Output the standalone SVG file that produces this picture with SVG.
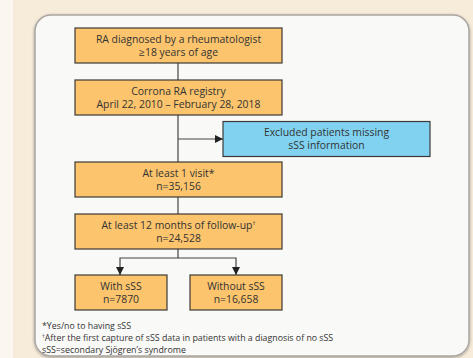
<svg xmlns="http://www.w3.org/2000/svg" width="473" height="358" viewBox="0 0 473 358">
<defs>
<style>
.box{fill:#fcc46c;stroke:#3c3a36;stroke-width:1.2}
.blue{fill:#80d2f0;stroke:#3c3a36;stroke-width:1.2}
.t{font-family:"Open Sans","Liberation Sans",sans-serif;font-size:10.4px;fill:#333;text-anchor:middle}
.fn{font-family:"Open Sans","Liberation Sans",sans-serif;font-size:8.8px;fill:#333}
.ln{stroke:#444;stroke-width:1.2;fill:none}
</style>
<marker id="ah" viewBox="0 0 10 10" refX="10" refY="5" markerWidth="8" markerHeight="8" markerUnits="userSpaceOnUse" orient="auto">
<path d="M0,0 L10,5 L0,10 z" fill="#222"/>
</marker>
<filter id="sh" x="-5%" y="-5%" width="110%" height="110%">
<feDropShadow dx="0" dy="1" stdDeviation="1.5" flood-color="#000" flood-opacity="0.35"/>
</filter>
</defs>
<rect x="0" y="0" width="473" height="358" fill="#f7ebd9"/>
<rect x="0" y="0" width="13" height="358" fill="#fbf6ee"/>
<rect x="35" y="15" width="434" height="341" rx="16" ry="16" fill="#f9f9f8" stroke="#a8a6a2" stroke-width="1.5" filter="url(#sh)"/>
<g id="connectors">
<line class="ln" x1="178" y1="63" x2="178" y2="80"/>
<line class="ln" x1="178" y1="115" x2="178" y2="162"/>
<line class="ln" x1="178" y1="139" x2="223" y2="139" marker-end="url(#ah)"/>
<line class="ln" x1="178" y1="197" x2="178" y2="214"/>
<polyline class="ln" points="178,249 178,258 120,258 120,275" marker-end="url(#ah)"/>
<polyline class="ln" points="178,258 236,258 236,275" marker-end="url(#ah)"/>
</g>
<g id="n1"><rect class="box" x="75" y="28" width="207" height="35"/>
<text class="t" x="178.5" y="42.5">RA diagnosed by a rheumatologist</text>
<text class="t" x="178.5" y="56">≥18 years of age</text></g>
<g id="n2"><rect class="box" x="75" y="80" width="207" height="35"/>
<text class="t" x="178.5" y="94.5">Corrona RA registry</text>
<text class="t" x="178.5" y="108">April 22, 2010 – February 28, 2018</text></g>
<g id="n3"><rect class="blue" x="223" y="121.5" width="207" height="35"/>
<text class="t" x="326.5" y="135.5">Excluded patients missing</text>
<text class="t" x="326.5" y="149">sSS information</text></g>
<g id="n4"><rect class="box" x="75" y="162" width="207" height="35"/>
<text class="t" x="178.5" y="176.5">At least 1 visit*</text>
<text class="t" x="178.5" y="190">n=35,156</text></g>
<g id="n5"><rect class="box" x="75" y="214" width="207" height="35"/>
<text class="t" x="178.5" y="228.5">At least 12 months of follow-up<tspan font-size="6" dy="-3.5">†</tspan></text>
<text class="t" x="178.5" y="242">n=24,528</text></g>
<g id="n6"><rect class="box" x="75" y="275" width="92" height="35"/>
<text class="t" x="121" y="289.5">With sSS</text>
<text class="t" x="121" y="303">n=7870</text></g>
<g id="n7"><rect class="box" x="190" y="275" width="92" height="35"/>
<text class="t" x="236" y="289.5">Without sSS</text>
<text class="t" x="236" y="303">n=16,658</text></g>
<g id="notes">
<text class="fn" x="42" y="329">*Yes/no to having sSS</text>
<text class="fn" x="42" y="341"><tspan font-size="5.5" dy="-3">†</tspan><tspan dy="3">After the first capture of sSS data in patients with a diagnosis of no sSS</tspan></text>
<text class="fn" x="42" y="353">sSS=secondary Sjögren’s syndrome</text>
</g>
</svg>
